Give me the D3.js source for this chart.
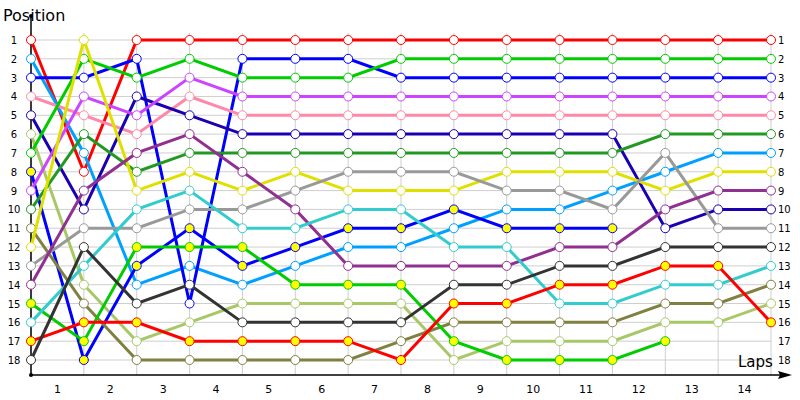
<!DOCTYPE html>
<html><head><meta charset="utf-8">
<script src="https://cdn.jsdelivr.net/npm/d3@7"></script>
<style>body{margin:0;background:#fff}text{font-family:Verdana,"DejaVu Sans",sans-serif}</style>
</head><body><div id="chart"></div>
<script>
// Positions per lap (index 0 = start, 1..14 = end of each lap)
var names = ["red","lightblue","blue","pink","navy","lightgreen","green","blue2","violet","darkgreen","olive","yellow","gray","purple","green2","cyan","red2","darkgray"];
var colors = ["#ff0000","#00a0ff","#0000ff","#ff88aa","#1a00b0","#a8c868","#00cc00","#0000ff","#cc44ff","#229922","#808040","#e0e000","#999999","#903090","#00cc00","#33cccc","#ff0000","#333333"];
var fills = ["#fff","#fff","#fff","#fff","#fff","#fff","#fff","#ffff00","#fff","#fff","#fff","#fff","#fff","#fff","#ffff00","#fff","#ffff00","#fff"];
var positions = [
  [1,8,1,1,1,1,1,1,1,1,1,1,1,1,1],
  [2,7,14,13,14,13,12,12,11,10,10,9,8,7,7],
  [3,3,2,15,2,2,2,3,3,3,3,3,3,3,3],
  [4,5,6,4,5,5,5,5,5,5,5,5,5,5,5],
  [5,10,4,5,6,6,6,6,6,6,6,6,11,10,10],
  [6,14,17,16,15,15,15,15,18,17,17,17,16,16,15],
  [7,2,3,2,3,3,3,2,2,2,2,2,2,2,2],
  [8,18,13,11,13,12,11,11,10,11,11,11],
  [9,4,5,3,4,4,4,4,4,4,4,4,4,4,4],
  [10,6,8,7,7,7,7,7,7,7,7,7,6,6,6],
  [11,15,18,18,18,18,18,17,16,16,16,16,15,15,14],
  [12,1,9,8,9,8,9,9,9,8,8,8,9,8,8],
  [13,11,11,10,10,9,8,8,8,9,9,10,7,11,11],
  [14,9,7,6,8,10,13,13,13,13,12,12,10,9,9],
  [15,17,12,12,12,14,14,14,17,18,18,18,17],
  [16,13,10,9,11,11,10,10,12,12,15,15,14,14,13],
  [17,16,16,17,17,17,17,18,15,15,14,14,13,13,16],
  [18,12,15,14,16,16,16,16,14,14,13,13,12,12,12]
];
var lapLabels = d3.range(1, 15);
var posLabels = d3.range(1, 19);

var W = 800, H = 400;
var svg = d3.select("#chart").append("svg").attr("width", W).attr("height", H);
var x = d3.scaleLinear().domain([0, 14]).range([31, 771]);
var y = d3.scaleLinear().domain([1, 18]).range([40, 360]);

// grid
svg.append("g").selectAll("line").data(posLabels).enter().append("line")
  .attr("x1", x(0)).attr("x2", x(14)).attr("y1", y).attr("y2", y)
  .attr("stroke", "#cfcfcf");
svg.append("g").selectAll("line").data(d3.range(0, 15)).enter().append("line")
  .attr("x1", x).attr("x2", x).attr("y1", 33).attr("y2", 375)
  .attr("stroke", "#cfcfcf");

// axes
svg.append("line").attr("x1", 31).attr("x2", 31).attr("y1", 15).attr("y2", 375).attr("stroke", "#000").attr("stroke-width", 1.5);
svg.append("line").attr("x1", 31).attr("x2", 785).attr("y1", 375).attr("y2", 375).attr("stroke", "#000").attr("stroke-width", 1.5);
svg.append("path").attr("d", "M792,375 L778,371 L780,375 L778,379 Z").attr("fill", "#000");
svg.append("circle").attr("cx", 31).attr("cy", 16).attr("r", 2).attr("fill", "#000");
svg.append("circle").attr("cx", 31).attr("cy", 375).attr("r", 2).attr("fill", "#000");

svg.append("text").attr("x", 3).attr("y", 21).attr("font-size", 16).text("Position");
svg.append("text").attr("x", 738).attr("y", 367).attr("font-size", 15).text("Laps");

svg.append("g").selectAll("text").data(posLabels).enter().append("text")
  .attr("x", 14).attr("y", function(d) { return y(d) + 4; })
  .attr("text-anchor", "middle").attr("font-size", 10).text(function(d) { return d; });
svg.append("g").selectAll("text").data(posLabels).enter().append("text")
  .attr("x", 778).attr("y", function(d) { return y(d) + 4; })
  .attr("font-size", 10).text(function(d) { return d; });
svg.append("g").selectAll("text").data(lapLabels).enter().append("text")
  .attr("x", function(d) { return x(d - 0.5); }).attr("y", 393)
  .attr("text-anchor", "middle").attr("font-size", 11).text(function(d) { return d; });

// series
var line = d3.line().x(function(d, i) { return x(i); }).y(function(d) { return y(d); });
var series = svg.append("g").selectAll("g").data(positions).enter().append("g");
series.append("path").attr("d", line).attr("fill", "none")
  .attr("stroke", function(d, i) { return colors[i]; }).attr("stroke-width", 3);
series.each(function(s, si) {
  d3.select(this).selectAll("circle").data(s).enter().append("circle")
    .attr("cx", function(d, i) { return x(i); }).attr("cy", y).attr("r", 4.5)
    .attr("fill", fills[si]).attr("stroke", colors[si]).attr("stroke-width", 1);
});
</script></body></html>
